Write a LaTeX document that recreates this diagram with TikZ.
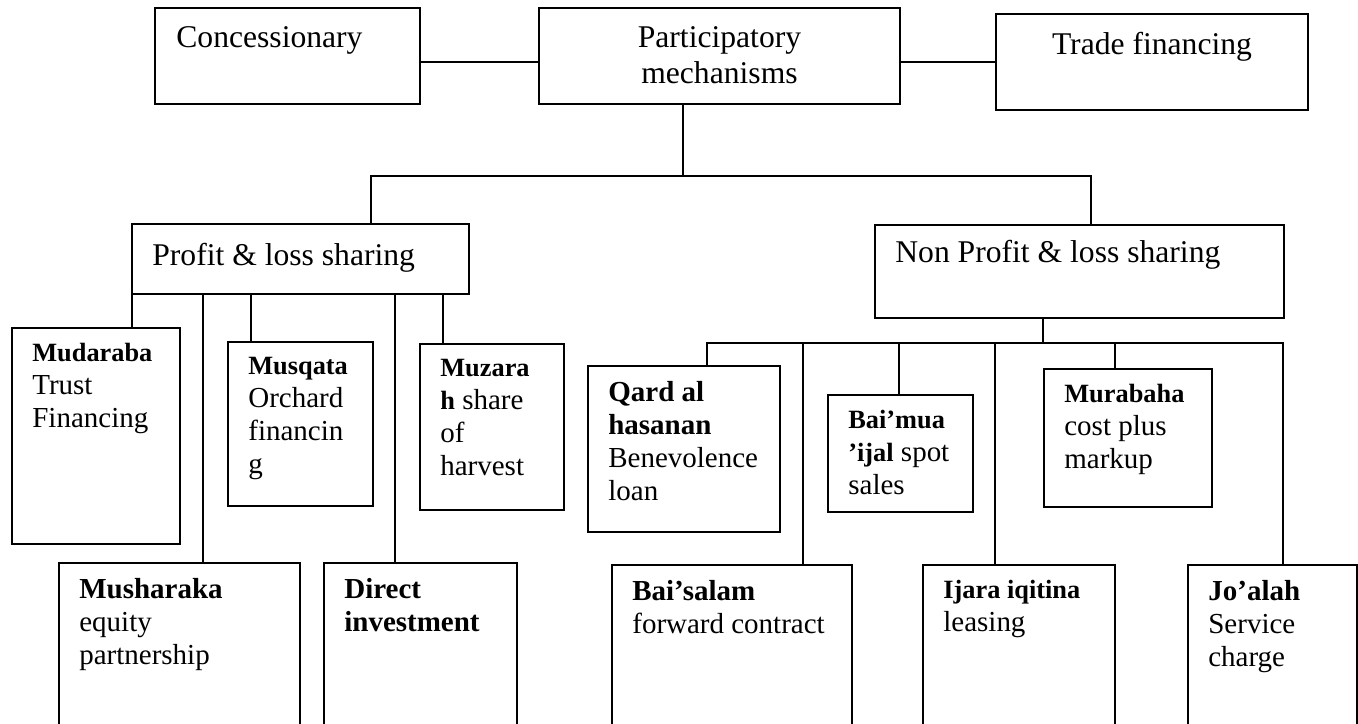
\documentclass[tikz,border=0pt]{standalone}
\usepackage{fontspec}
\setmainfont{Liberation Serif}
\newcommand{\bterm}[1]{\textbf{#1}}
\newcommand{\sterm}[1]{{\fontsize{15}{18.8}\selectfont\bfseries #1}}
\tikzset{
  bx/.style 2 args={draw, line width=1.1pt, anchor=north west, inner sep=0pt,
    minimum width=#1*0.02cm, minimum height=#2*0.02cm},
  tl/.style={anchor=north west, align=left, inner xsep=0.42cm, inner ysep=0.32cm},
  tc/.style={anchor=north, align=center, inner ysep=0.38cm},
  big/.style={font=\fontsize{18}{20.5}\selectfont},
  link/.style={line width=1.1pt},
}
\begin{document}
\begin{tikzpicture}[x=0.02cm,y=-0.02cm,font=\fontsize{16.5}{18.8}\selectfont]
\useasboundingbox (0,0) rectangle (1358,723);

% top row
\node[bx={265}{96}, label={[tl,big,inner xsep=0.44cm,inner ysep=0.38cm]north west:Concessionary}] (conc) at (154,7) {};
\node[bx={361}{96}, label={[tc,big]north:{Participatory\\mechanisms}}] (part) at (538,7) {};
\node[bx={312}{96}, label={[tc,big]north:Trade financing}] (trade) at (995,13) {};

% sharing types
\node[bx={337}{70}, label={[tl,big,inner ysep=0.4cm]north west:Profit \& loss sharing}] (pls) at (131,223) {};
\node[bx={409}{93}, label={[tl,big,inner ysep=0.32cm]north west:Non Profit \& loss sharing}] (npls) at (874,224) {};

% middle row
\node[bx={168}{216}, label={[tl]north west:{\sterm{Mudaraba}\\Trust\\Financing}}] (mudaraba) at (11,327) {};
\node[bx={145}{164}, label={[tl]north west:{\sterm{Musqata}\\Orchard\\financin\\g}}] (musqata) at (227,341) {};
\node[bx={144}{166}, label={[tl]north west:{\sterm{Muzara}\\\sterm{h} share\\of\\harvest}}] (muzarah) at (419,343) {};
\node[bx={192}{166}, label={[tl]north west:{\bterm{Qard al}\\\bterm{hasanan}\\Benevolence\\loan}}] (qard) at (587,365) {};
\node[bx={145}{117}, label={[tl]north west:{\sterm{Bai’mua}\\\sterm{’ijal} spot\\sales}}] (baimua) at (827,394) {};
\node[bx={168}{138}, label={[tl]north west:{\sterm{Murabaha}\\cost plus\\markup}}] (murabaha) at (1043,368) {};

% bottom row
\node[bx={241}{200}, label={[tl]north west:{\bterm{Musharaka}\\equity\\partnership}}] (musharaka) at (58,562) {};
\node[bx={193}{200}, label={[tl]north west:{\bterm{Direct}\\\bterm{investment}}}] (direct) at (323,562) {};
\node[bx={240}{200}, label={[tl]north west:{\bterm{Bai’salam}\\forward contract}}] (baisalam) at (611,564) {};
\node[bx={192}{200}, label={[tl]north west:{\sterm{Ijara iqitina}\\leasing}}] (ijara) at (922,564) {};
\node[bx={169}{200}, label={[tl]north west:{\bterm{Jo’alah}\\Service\\charge}}] (joalah) at (1187,564) {};

% connectors
\coordinate (lvl0) at (0,62);
\coordinate (hub) at (683,176);
\coordinate (plsin) at (371,176);
\coordinate (nplsin) at (1091,176);
\coordinate (nplsout) at (1043,343);
\coordinate (busL) at (707,343);
\coordinate (busR) at (1283,343);

\draw[link] (conc.east |- lvl0) -- (part.west |- lvl0);
\draw[link] (part.east |- lvl0) -- (trade.west |- lvl0);
\draw[link] (hub |- part.south) -- (hub);
\draw[link] (plsin |- pls.north) -- (plsin) -- (nplsin) -- (nplsin |- npls.north);
\foreach \x/\t in {132/mudaraba,203/musharaka,251/musqata,395/direct,443/muzarah}
  \draw[link] (\x,0 |- pls.south) -- (\x,0 |- \t.north);

\draw[link] (nplsout |- npls.south) -- (nplsout);
\draw[link] (busL |- qard.north) -- (busL) -- (busR) -- (busR |- joalah.north);
\foreach \x/\t in {803/baisalam,899/baimua,995/ijara,1115/murabaha}
  \draw[link] (\x,0 |- busL) -- (\x,0 |- \t.north);
\end{tikzpicture}
\end{document}
